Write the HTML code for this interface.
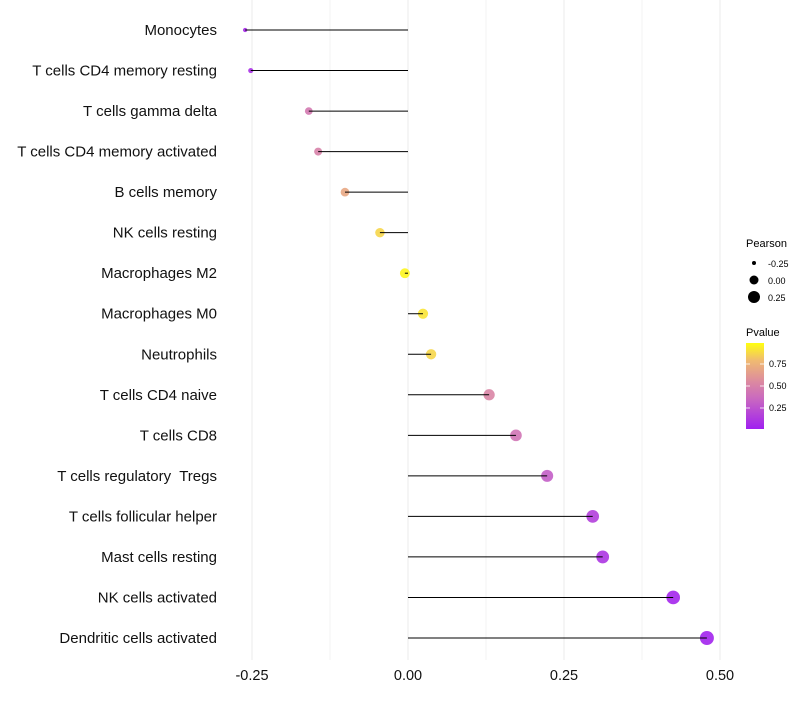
<!DOCTYPE html>
<html><head><meta charset="utf-8"><style>
body{margin:0;background:#fff;font-family:"Liberation Sans",sans-serif}
text{white-space:pre}
</style></head><body>
<svg id="chart" width="800" height="700" xmlns="http://www.w3.org/2000/svg" font-family="Liberation Sans, sans-serif">
<defs><linearGradient id="pg" x1="0" y1="1" x2="0" y2="0">
<stop offset="0" stop-color="#a020f0"/><stop offset="0.35" stop-color="#c968c0"/><stop offset="0.55" stop-color="#dc8aa0"/><stop offset="0.8" stop-color="#f0bb70"/><stop offset="1" stop-color="#ffff10"/></linearGradient></defs>
<g id="grid"></g><g id="marks"></g><g id="labels"></g>
<g font-size="10">
<text x="746" y="247" font-size="11">Pearson</text>
<circle cx="754" cy="263" r="2"/><text x="768" y="267" font-size="9">-0.25</text>
<circle cx="754" cy="280" r="4.5"/><text x="768" y="284" font-size="9">0.00</text>
<circle cx="754" cy="297" r="6"/><text x="768" y="301" font-size="9">0.25</text>
<text x="746" y="336" font-size="11">Pvalue</text>
<rect x="746" y="343" width="18" height="86" fill="url(#pg)"/>
<g stroke="#fff" stroke-width="0.8"><line x1="746" y1="364" x2="750" y2="364"/><line x1="760" y1="364" x2="764" y2="364"/><line x1="746" y1="386" x2="750" y2="386"/><line x1="760" y1="386" x2="764" y2="386"/><line x1="746" y1="408" x2="750" y2="408"/><line x1="760" y1="408" x2="764" y2="408"/></g>
<text x="769" y="367" font-size="9">0.75</text><text x="769" y="389" font-size="9">0.50</text><text x="769" y="411" font-size="9">0.25</text>
</g>
</svg>
<script>
const categories=["Monocytes","T cells CD4 memory resting","T cells gamma delta","T cells CD4 memory activated","B cells memory","NK cells resting","Macrophages M2","Macrophages M0","Neutrophils","T cells CD4 naive","T cells CD8","T cells regulatory  Tregs","T cells follicular helper","Mast cells resting","NK cells activated","Dendritic cells activated"];
const pearson=[-0.261,-0.252,-0.159,-0.144,-0.101,-0.045,-0.005,0.024,0.037,0.130,0.173,0.223,0.296,0.312,0.425,0.479];
const pvalues=[0.05,0.08,0.45,0.5,0.7,0.88,0.97,0.92,0.88,0.52,0.42,0.3,0.15,0.1,0.03,0.02];
const xTicks=[-0.25,0,0.25,0.5];
const xTickLabels=["-0.25","0.00","0.25","0.50"];
const NS="http://www.w3.org/2000/svg";
const xs=v=>408+v*624;
const ys=i=>30+i*(608/15);
const rs=v=>2+5*Math.sqrt(Math.max(0,(v+0.262)/0.741));
const stops=[[0,[160,32,240]],[0.35,[201,104,192]],[0.55,[220,138,160]],[0.8,[240,187,112]],[1,[255,255,16]]];
function col(p){for(let k=1;k<stops.length;k++){if(p<=stops[k][0]){const a=stops[k-1],b=stops[k],t=(p-a[0])/(b[0]-a[0]);return "rgb("+a[1].map((c,j)=>Math.round(c+(b[1][j]-c)*t)).join(",")+")";}}return "rgb(255,255,16)";}
function mk(tag,attrs,parent){const e=document.createElementNS(NS,tag);for(const k in attrs)e.setAttribute(k,attrs[k]);parent.appendChild(e);return e;}
const grid=document.getElementById('grid'),marks=document.getElementById('marks'),labels=document.getElementById('labels');
for(let v=-0.25;v<=0.5001;v+=0.125){const l=mk('line',{x1:xs(v),x2:xs(v),y1:0,y2:660,stroke:'#ebebeb','stroke-width':Math.abs((v/0.25)%1)<1e-6?1:0.6},grid);

}
xTicks.forEach((v,i)=>{const t=mk('text',{x:xs(v),y:680,'text-anchor':'middle','font-size':14.5,fill:'#111'},labels);t.textContent=xTickLabels[i];

});
categories.forEach((c,i)=>{const y=ys(i);
const t=mk('text',{x:217,y:y+5,'text-anchor':'end','font-size':15,fill:'#111'},labels);t.textContent=c;


const d=mk('circle',{cx:xs(pearson[i]),cy:y,r:rs(pearson[i]),fill:col(pvalues[i]),'fill-opacity':0.9},marks);


const l=mk('line',{x1:xs(0),x2:xs(pearson[i]),y1:y,y2:y,stroke:'#000','stroke-width':1},marks);

});
</script>
</body></html>
